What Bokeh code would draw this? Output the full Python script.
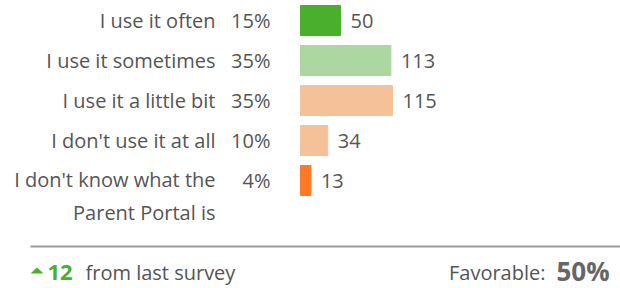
from bokeh.plotting import figure
from bokeh.models import Range1d, ColumnDataSource
from bokeh.layouts import column
from bokeh.core.properties import value
from bokeh.embed import file_html
from bokeh.resources import INLINE

categories = ["I use it often", "I use it sometimes", "I use it a little bit",
              "I don't use it at all", "I don't know what the\nParent Portal is"]
percents = ["15%", "35%", "35%", "10%", "4%"]
counts = [50, 113, 115, 34, 13]
colors = ["#4AAF2D", "#ADD7A0", "#F5C198", "#F5C198", "#FF7827"]
change = 12
favorable = "50%"

FONT = "Open Sans"
FS = 20
TXT = "#555555"
GREEN = "#4AAF2D"
W = 620
PX_PER_UNIT = 0.8
ZERO_X = 300
ROW_PX = 40
TOP_PAD = 20
H1 = 234
H2 = 54
LINE_PX = 31
LINE_UNIT_PX = 25.2

rows = list(range(len(categories)))
n_lines = [c.count("\n") + 1 for c in categories]
label_yoff = [(n - 1) * LINE_PX / 2 for n in n_lines]

src = ColumnDataSource(dict(y=rows, cat=categories, pct=percents, cnt=counts,
                            cnt_txt=[str(c) for c in counts], color=colors,
                            yoff=label_yoff))

p = figure(width=W, height=H1, output_backend="svg", toolbar_location=None,
           x_range=Range1d(-ZERO_X / PX_PER_UNIT, (W - ZERO_X) / PX_PER_UNIT),
           y_range=Range1d((H1 - TOP_PAD) / ROW_PX, -TOP_PAD / ROW_PX),
           min_border=0, outline_line_color=None)
p.axis.visible = False
p.grid.visible = False

p.hbar(y="y", left=0, right="cnt", height=0.75, color="color", source=src)
p.text(x=0, y="y", text="cat", x_offset=-85, y_offset="yoff", text_align="right",
       text_baseline="middle", text_font=value(FONT), text_font_size=f"{FS}px",
       text_color=TXT, text_line_height=LINE_PX / LINE_UNIT_PX, source=src)
p.text(x=0, y="y", text="pct", x_offset=-30, text_align="right",
       text_baseline="middle", text_font=value(FONT), text_font_size=f"{FS}px",
       text_color=TXT, source=src)
p.text(x="cnt", y="y", text="cnt_txt", x_offset=10, text_align="left",
       text_baseline="middle", text_font=value(FONT), text_font_size=f"{FS}px",
       text_color=TXT, source=src)

f = figure(width=W, height=H2, output_backend="svg", toolbar_location=None,
           x_range=Range1d(0, W), y_range=Range1d(H2, 0),
           min_border=0, outline_line_color=None)
f.axis.visible = False
f.grid.visible = False
f.segment(x0=[30], y0=[12], x1=[W], y1=[12], line_color="#999999", line_width=2)
tri_cx, tri_cy, tri_w, tri_h = 36.5, 36, 13, 6
f.patch(x=[tri_cx - tri_w / 2, tri_cx + tri_w / 2, tri_cx],
        y=[tri_cy + tri_h / 2, tri_cy + tri_h / 2, tri_cy - tri_h / 2],
        color=GREEN, line_width=0)
f.text(x=[47], y=[38], text=[str(change)], text_align="left", text_baseline="middle",
       text_font=value(FONT), text_font_style="bold", text_font_size="22px",
       text_color=GREEN)
f.text(x=[85], y=[38], text=["from last survey"], text_align="left",
       text_baseline="middle", text_font=value(FONT), text_font_size=f"{FS}px",
       text_color=TXT)
f.text(x=[545], y=[38], text=["Favorable:"], text_align="right",
       text_baseline="middle", text_font=value(FONT), text_font_size=f"{FS}px",
       text_color=TXT)
f.text(x=[556], y=[36], text=[favorable], text_align="left",
       text_baseline="middle", text_font=value(FONT), text_font_style="bold",
       text_font_size="26px", text_color="#666666")

layout = column(p, f, spacing=0)
open("out.html", "w").write(file_html(layout, INLINE))
